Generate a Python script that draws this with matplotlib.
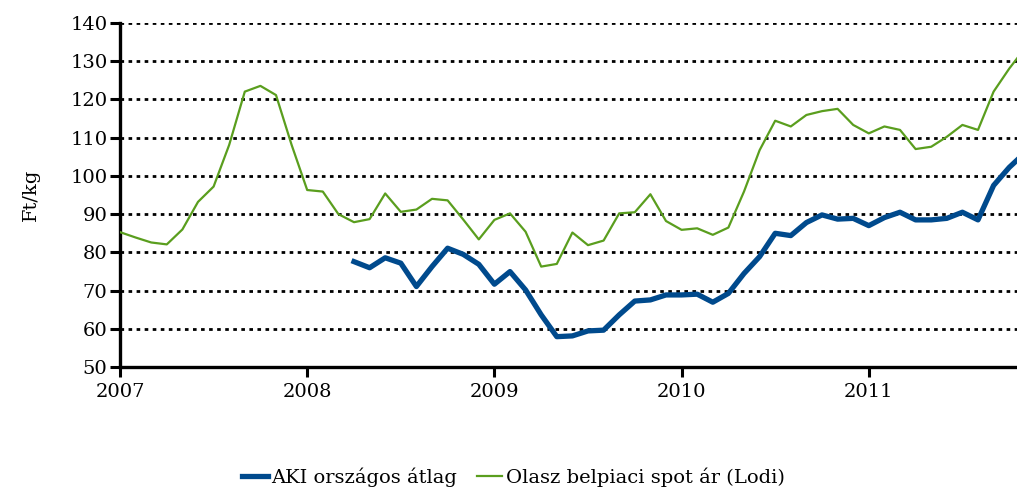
import numpy as np
import matplotlib
matplotlib.use("Agg")
import matplotlib.pyplot as plt

# havi adatok, 2007 januártól
olasz = [85.3, 83.9, 82.6, 82.1, 86.0, 93.2, 97.2, 108.1, 122.0, 123.5, 121.1, 108.1,
         96.3, 95.9, 90.0, 87.9, 88.7, 95.4, 90.6, 91.2, 94.0, 93.6, 88.6, 83.4,
         88.5, 90.2, 85.4, 76.3, 77.0, 85.2, 81.9, 83.1, 90.2, 90.5, 95.2, 88.2,
         85.9, 86.3, 84.6, 86.5, 95.9, 106.7, 114.4, 112.9, 115.9, 116.9, 117.5, 113.3,
         111.1, 112.9, 112.0, 107.0, 107.6, 110.2, 113.3, 112.0, 122.0, 128.0, 133.3]
aki = [np.nan] * 15 + [77.6, 76.0, 78.6, 77.2, 71.1, 76.3, 81.1, 79.5, 76.9,
       71.7, 75.0, 70.2, 63.7, 58.0, 58.2, 59.5, 59.7, 63.7, 67.3, 67.6, 68.9,
       68.9, 69.1, 67.0, 69.3, 74.5, 78.9, 85.0, 84.4, 87.8, 89.8, 88.7, 88.9,
       87.0, 89.1, 90.5, 88.5, 88.5, 88.9, 90.5, 88.5, 97.5, 102.2, 106.0]
evek = ["2007", "2008", "2009", "2010", "2011"]

x = np.arange(len(olasz))
n = 14

plt.rcParams['font.family'] = ['DejaVu Serif']

fig = plt.figure(figsize=(10.17, 4.91), dpi=100)
ax = fig.add_axes([120 / 1017, 1 - 367.3 / 491, 1 - 120 / 1017, (367.3 - 22.7) / 491])

for v in range(60, 150, 10):
    ax.axhline(v, color='black', linewidth=2.0, linestyle=(0, (1.3, 1.6)), zorder=1)

ax.plot(x, aki, color='#004a8d', linewidth=3.8, label='AKI országos átlag', zorder=3)
ax.plot(x, olasz, color='#5a9e1e', linewidth=1.6, label='Olasz belpiaci spot ár (Lodi)', zorder=3)

ax.set_xlim(0, 57.5)
ax.set_ylim(50, 140)
ax.set_xticks([0, 12, 24, 36, 48])
ax.set_xticklabels(evek, size=n)
ax.set_yticks(range(50, 150, 10))
ax.tick_params(axis='y', labelsize=n, width=2.2, length=7, pad=2)
ax.tick_params(axis='x', labelsize=n, width=2.2, length=7, pad=4)
for s in ['top', 'right']:
    ax.spines[s].set_visible(False)
for s in ['left', 'bottom']:
    ax.spines[s].set_linewidth(2.4)
ax.set_ylabel('Ft/kg', size=n, labelpad=22)

fig.legend(loc='center', bbox_to_anchor=(0.505, 0.028), ncol=2, frameon=False,
           fontsize=n, handlelength=1.3, handletextpad=0.2, columnspacing=1.0)

fig.savefig("out.png", dpi=100)
